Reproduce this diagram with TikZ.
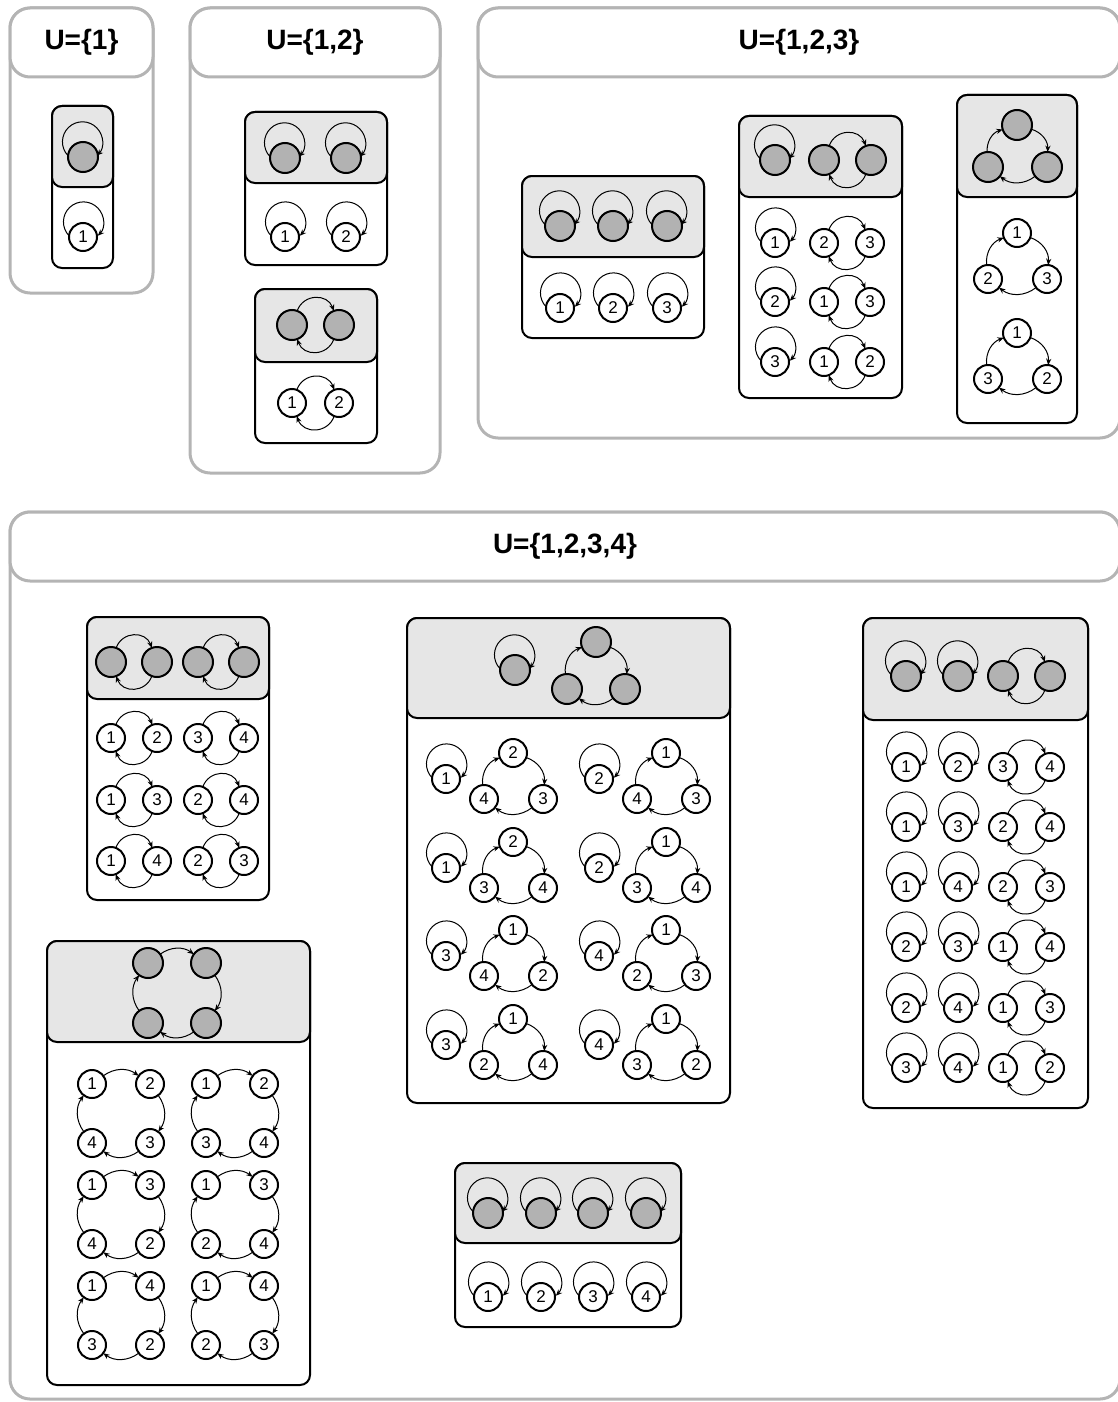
\documentclass[tikz,border=0pt]{standalone}
\usepackage{fontspec}
\setmainfont{Liberation Sans}
\usetikzlibrary{arrows.meta}
\definecolor{framegray}{RGB}{180,180,180}
\definecolor{topgray}{RGB}{230,230,230}
\definecolor{dotgray}{RGB}{178,178,178}
% loops and cycles between named vertices
\newcommand{\sloop}[1]{\draw[link] (#1.175) arc[start angle=-136,end angle=-404,radius=20];}
\newcommand{\twocyc}[2]{\draw[link] (#1) to[out=70,in=110,looseness=1.3] (#2); \draw[link] (#2) to[out=-110,in=-70,looseness=1.3] (#1);}
\newcommand{\threecyc}[3]{\draw[link] (#2) to[bend left=38] (#1); \draw[link] (#1) to[bend left=38] (#3); \draw[link] (#3) to[bend left=38] (#2);}
\newcommand{\fourcyc}[4]{\draw[link] (#1) to[bend left=36] (#2); \draw[link] (#2) to[bend left=36] (#3); \draw[link] (#3) to[bend left=36] (#4); \draw[link] (#4) to[bend left=36] (#1);}
% outer panel with header, inner card with grey top
\newcommand{\panel}[6]{\draw[frame] (#2,-#3) rectangle (#4,-#5); \draw[frame] (#2,-#3) rectangle (#4,-#3-69); \node[paneltitle] (#1) at ({(#2+#4)/2},-#3-34) {#6};}
\newcommand{\card}[5]{\draw[cardline,fill=white] (#1,-#2) rectangle (#3,-#4); \draw[cardline,fill=topgray] (#1,-#2) rectangle (#3,-#5);}
\begin{document}
\begin{tikzpicture}[x=0.5pt,y=0.5pt,
  frame/.style={draw=framegray,line width=1.5pt,rounded corners=10pt,fill=white},
  cardline/.style={draw=black,line width=1pt,rounded corners=5pt},
  gv/.style={circle,draw,line width=1pt,fill=dotgray,minimum size=15pt,inner sep=0pt,outer sep=0pt},
  wv/.style={circle,draw,line width=1pt,fill=white,minimum size=14pt,inner sep=0pt,outer sep=0pt,font=\fontsize{8.5}{9}\selectfont},
  link/.style={line width=0.5pt,-{Stealth[length=3.2pt,width=2.6pt]}},
  paneltitle/.style={font=\fontsize{14}{16}\selectfont\bfseries}]
\useasboundingbox (0,0) rectangle (1118,-1402);
% U={1}
\panel{t1}{10}{8}{153}{293}{U=\{1\}}
\card{52}{106}{113}{268}{187}
\node[gv] (a1) at (83,-157) {}; \sloop{a1}
\node[wv] (aw1) at (83,-237) {1}; \sloop{aw1}
% U={1,2}
\panel{t2}{190}{8}{440}{473}{U=\{1,2\}}
\card{245}{112}{387}{265}{183}
\foreach \k/\x in {1/285,2/346} {\node[gv] (b\k) at (\x,-158) {}; \sloop{b\k} \node[wv] (bw\k) at (\x,-237) {\k}; \sloop{bw\k}}
\card{255}{289}{377}{443}{362}
\node[gv] (c1) at (292,-325) {}; \node[gv] (c2) at (339,-325) {}; \twocyc{c1}{c2}
\node[wv] (cw1) at (292,-403) {1}; \node[wv] (cw2) at (339,-403) {2}; \twocyc{cw1}{cw2}
% U={1,2,3}
\panel{t3}{478}{8}{1120}{438}{U=\{1,2,3\}}
\card{522}{176}{704}{338}{257}
\foreach \k/\x in {1/560,2/613,3/667} {\node[gv] (d\k) at (\x,-226) {}; \sloop{d\k} \node[wv] (dw\k) at (\x,-308) {\k}; \sloop{dw\k}}
\card{739}{116}{902}{398}{197}
\node[gv] (e0) at (775,-160) {}; \sloop{e0}
\node[gv] (e1) at (824,-160) {}; \node[gv] (e2) at (871,-160) {}; \twocyc{e1}{e2}
\foreach \k/\y/\ps/\pa/\pb in {1/243/1/2/3, 2/302/2/1/3, 3/362/3/1/2} {
  \node[wv] (es\k) at (775,-\y) {\ps}; \sloop{es\k}
  \node[wv] (ea\k) at (824,-\y) {\pa}; \node[wv] (eb\k) at (870,-\y) {\pb}; \twocyc{ea\k}{eb\k}}
\card{957}{95}{1077}{423}{197}
\node[gv] (f1) at (1017,-125) {}; \node[gv] (f2) at (988,-167) {}; \node[gv] (f3) at (1047,-167) {}; \threecyc{f1}{f2}{f3}
\foreach \k/\y/\pl/\pr in {1/233/2/3, 2/333/3/2} {
  \node[wv] (ft\k) at (1017,-\y) {1}; \node[wv] (fl\k) at (988,{-\y-46}) {\pl}; \node[wv] (fr\k) at (1047,{-\y-46}) {\pr};
  \threecyc{ft\k}{fl\k}{fr\k}}
% U={1,2,3,4}
\panel{t4}{10}{512}{1120}{1399}{U=\{1,2,3,4\}}
% two 2-cycles
\card{87}{617}{269}{900}{699}
\node[gv] (g1) at (111,-662) {}; \node[gv] (g2) at (157,-662) {}; \node[gv] (g3) at (198,-662) {}; \node[gv] (g4) at (244,-662) {};
\twocyc{g1}{g2} \twocyc{g3}{g4}
\foreach \k/\y/\pa/\pb/\pc/\pd in {1/738/1/2/3/4, 2/800/1/3/2/4, 3/861/1/4/2/3} {
  \node[wv] (ga\k) at (111,-\y) {\pa}; \node[wv] (gb\k) at (157,-\y) {\pb}; \node[wv] (gc\k) at (198,-\y) {\pc}; \node[wv] (gd\k) at (244,-\y) {\pd};
  \twocyc{ga\k}{gb\k} \twocyc{gc\k}{gd\k}}
% loop + 3-cycle
\card{407}{618}{730}{1103}{718}
\node[gv] (h0) at (515,-670) {}; \sloop{h0}
\node[gv] (h1) at (596,-642) {}; \node[gv] (h2) at (567,-689) {}; \node[gv] (h3) at (625,-689) {}; \threecyc{h1}{h2}{h3}
\foreach \k/\dx/\y/\ps/\pt/\pl/\pr in {1/0/753/1/2/4/3, 2/153/753/2/1/4/3, 3/0/842/1/2/3/4, 4/153/842/2/1/3/4,
    5/0/930/3/1/4/2, 6/153/930/4/1/2/3, 7/0/1019/3/1/2/4, 8/153/1019/4/1/3/2} {
  \node[wv] (hs\k) at ({446+\dx},{-\y-26}) {\ps}; \sloop{hs\k}
  \node[wv] (ht\k) at ({513+\dx},-\y) {\pt}; \node[wv] (hl\k) at ({484+\dx},{-\y-46}) {\pl}; \node[wv] (hr\k) at ({543+\dx},{-\y-46}) {\pr};
  \threecyc{ht\k}{hl\k}{hr\k}}
% two loops + 2-cycle
\card{863}{618}{1088}{1108}{720}
\node[gv] (i1) at (906,-676) {}; \node[gv] (i2) at (958,-676) {}; \sloop{i1} \sloop{i2}
\node[gv] (i3) at (1003,-676) {}; \node[gv] (i4) at (1050,-676) {}; \twocyc{i3}{i4}
\foreach \k/\y/\pa/\pb/\pc/\pd in {1/767/1/2/3/4, 2/827/1/3/2/4, 3/887/1/4/2/3, 4/947/2/3/1/4, 5/1008/2/4/1/3, 6/1068/3/4/1/2} {
  \node[wv] (ia\k) at (906,-\y) {\pa}; \node[wv] (ib\k) at (958,-\y) {\pb}; \sloop{ia\k} \sloop{ib\k}
  \node[wv] (ic\k) at (1003,-\y) {\pc}; \node[wv] (id\k) at (1050,-\y) {\pd}; \twocyc{ic\k}{id\k}}
% 4-cycle
\card{47}{941}{310}{1385}{1042}
\node[gv] (k1) at (148,-963) {}; \node[gv] (k2) at (206,-963) {}; \node[gv] (k3) at (206,-1023) {}; \node[gv] (k4) at (148,-1023) {};
\fourcyc{k1}{k2}{k3}{k4}
\foreach \k/\x/\y/\pa/\pb/\pc/\pd in {1/92/1084/1/2/3/4, 2/206/1084/1/2/4/3, 3/92/1185/1/3/2/4, 4/206/1185/1/3/4/2, 5/92/1286/1/4/2/3, 6/206/1286/1/4/3/2} {
  \node[wv] (ka\k) at (\x,-\y) {\pa}; \node[wv] (kb\k) at ({\x+58},-\y) {\pb};
  \node[wv] (kc\k) at ({\x+58},{-\y-59}) {\pc}; \node[wv] (kd\k) at (\x,{-\y-59}) {\pd};
  \fourcyc{ka\k}{kb\k}{kc\k}{kd\k}}
% four loops
\card{455}{1163}{681}{1327}{1243}
\foreach \k/\x in {1/488,2/541,3/593,4/646} {\node[gv] (m\k) at (\x,-1213) {}; \sloop{m\k} \node[wv] (mw\k) at (\x,-1297) {\k}; \sloop{mw\k}}
\end{tikzpicture}
\end{document}
